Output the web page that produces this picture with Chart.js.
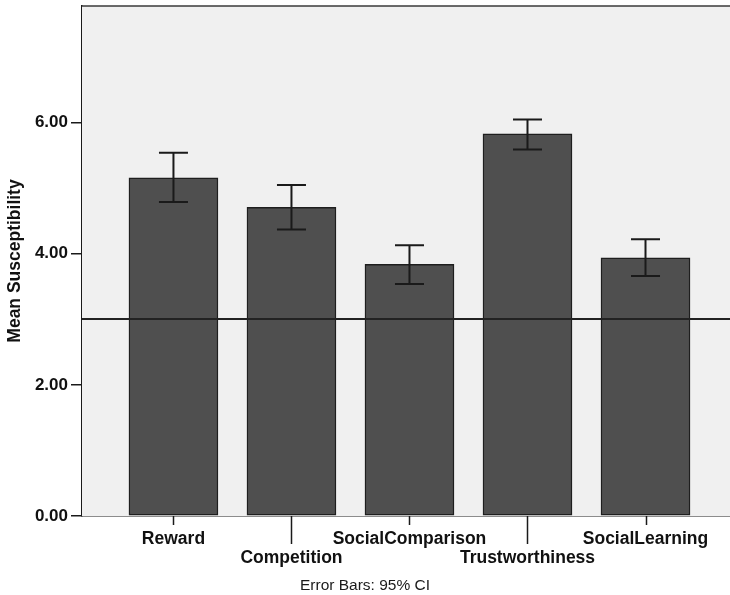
<!DOCTYPE html>
<html>
<head>
<meta charset="utf-8">
<script src="https://cdn.jsdelivr.net/npm/chart.js@4/dist/chart.umd.min.js"></script>
<style>
  html, body { margin: 0; padding: 0; background: #ffffff; }
  #wrap { width: 730px; height: 595px; }
</style>
</head>
<body>
<div id="wrap"><canvas id="c" width="730" height="595"></canvas></div>
<script>
// Mean susceptibility per persuasion strategy, with 95% confidence limits
const categories = ['Reward', 'Competition', 'SocialComparison', 'Trustworthiness', 'SocialLearning'];
const means      = [5.16, 4.71, 3.84, 5.83, 3.94];
const ciLower    = [4.79, 4.37, 3.54, 5.59, 3.66];
const ciUpper    = [5.54, 5.05, 4.13, 6.05, 4.22];
const yTicks     = [0, 2, 4, 6];
const referenceValue = 3.0;

const positions = categories.map((_, i) => i + 1);

const FONT = "'Liberation Sans', Arial, sans-serif";

// Plot background and top frame line
const frame = {
  id: 'frame',
  beforeDatasetsDraw(chart) {
    const { ctx, chartArea: a } = chart;
    ctx.save();
    ctx.fillStyle = '#f0f0f0';
    ctx.fillRect(a.left, a.top, a.right - a.left, a.bottom - a.top);
    ctx.strokeStyle = '#3a3a3a';
    ctx.lineWidth = 1.5;
    ctx.beginPath();
    ctx.moveTo(a.left, a.top);
    ctx.lineTo(a.right, a.top);
    ctx.stroke();
    ctx.restore();
  }
};

// Error bars and the horizontal reference line, drawn over the bars
const overlays = {
  id: 'overlays',
  afterDatasetsDraw(chart) {
    const { ctx, chartArea: a } = chart;
    const y = chart.scales.y;
    const meta = chart.getDatasetMeta(0);
    ctx.save();
    ctx.strokeStyle = '#1a1a1a';
    ctx.lineWidth = 2;
    meta.data.forEach((bar, i) => {
      const x = bar.x;
      const yl = y.getPixelForValue(ciLower[i]);
      const yh = y.getPixelForValue(ciUpper[i]);
      const half = 14.5;
      ctx.beginPath();
      ctx.moveTo(x, yl); ctx.lineTo(x, yh);
      ctx.moveTo(x - half, yh); ctx.lineTo(x + half, yh);
      ctx.moveTo(x - half, yl); ctx.lineTo(x + half, yl);
      ctx.stroke();
    });
    const yr = Math.round(y.getPixelForValue(referenceValue));
    ctx.strokeStyle = '#222222';
    ctx.lineWidth = 2;
    ctx.beginPath();
    ctx.moveTo(a.left, yr);
    ctx.lineTo(a.right, yr);
    ctx.stroke();
    ctx.restore();
  }
};

// Category tick marks: short for the upper label row, long for the lower row
const xTickMarks = {
  id: 'xTickMarks',
  afterDraw(chart) {
    const { ctx } = chart;
    const xs = chart.scales.x;
    ctx.save();
    ctx.strokeStyle = '#1a1a1a';
    ctx.lineWidth = 1.5;
    positions.forEach((p, i) => {
      const x = Math.round(xs.getPixelForValue(p)) + 0.5;
      const len = i % 2 === 0 ? 9 : 28;
      ctx.beginPath();
      ctx.moveTo(x, xs.top);
      ctx.lineTo(x, xs.top + len);
      ctx.stroke();
    });
    ctx.restore();
  }
};

new Chart(document.getElementById('c'), {
  type: 'bar',
  data: {
    datasets: [{
      data: positions.map((p, i) => ({ x: p, y: means[i] })),
      backgroundColor: '#4f4f4f',
      borderColor: '#1e1e1e',
      borderWidth: 1.5,
      borderSkipped: false,
      barThickness: 89
    }]
  },
  options: {
    responsive: false,
    animation: false,
    devicePixelRatio: 1,
    layout: { padding: { top: 6, right: 0, bottom: 0, left: 0 } },
    plugins: {
      legend: { display: false },
      tooltip: { enabled: false },
      title: {
        display: true,
        position: 'bottom',
        text: 'Error Bars: 95% CI',
        color: '#1a1a1a',
        font: { family: FONT, size: 15.5, weight: 'normal', lineHeight: 1.2 },
        padding: { top: 0, bottom: 0 }
      }
    },
    scales: {
      x: {
        type: 'linear',
        offset: false,
        min: 0.225,
        max: 5.716,
        afterBuildTicks(scale) {
          scale.ticks = positions.map(v => ({ value: v }));
        },
        afterFit(scale) {
          scale.height = 60.4;
          scale.paddingLeft = 0;
          scale.paddingRight = 0;
        },
        grid: { display: true, drawOnChartArea: false, drawTicks: false, color: 'rgba(0,0,0,0)' },
        border: { display: true, color: '#1a1a1a', width: 1.5 },
        ticks: {
          autoSkip: false,
          maxRotation: 0,
          minRotation: 0,
          padding: 14,
          color: '#111111',
          font: { family: FONT, size: 17.5, weight: 'bold', lineHeight: 1.09 },
          callback(value) {
            const i = positions.indexOf(value);
            if (i < 0) return '';
            return i % 2 === 0 ? categories[i] : ['', categories[i]];
          }
        }
      },
      y: {
        min: 0,
        max: 7.78,
        afterBuildTicks(scale) {
          scale.ticks = yTicks.map(v => ({ value: v }));
        },
        afterFit(scale) {
          scale.width = 82;
          scale.paddingTop = 0;
          scale.paddingBottom = 0;
        },
        grid: { display: true, drawOnChartArea: false, drawTicks: true, tickLength: 11, color: '#1a1a1a', lineWidth: 1.5 },
        border: { display: true, color: '#1a1a1a', width: 1.5 },
        ticks: {
          padding: 3,
          color: '#111111',
          font: { family: FONT, size: 17, weight: 'bold' },
          callback(value) { return Number(value).toFixed(2); }
        },
        title: {
          display: true,
          text: 'Mean Susceptibility',
          color: '#111111',
          font: { family: FONT, size: 17.5, weight: 'bold', lineHeight: 1.2 },
          padding: { top: 4.5, bottom: 0 }
        }
      }
    }
  },
  plugins: [frame, overlays, xTickMarks]
});
</script>
</body>
</html>
